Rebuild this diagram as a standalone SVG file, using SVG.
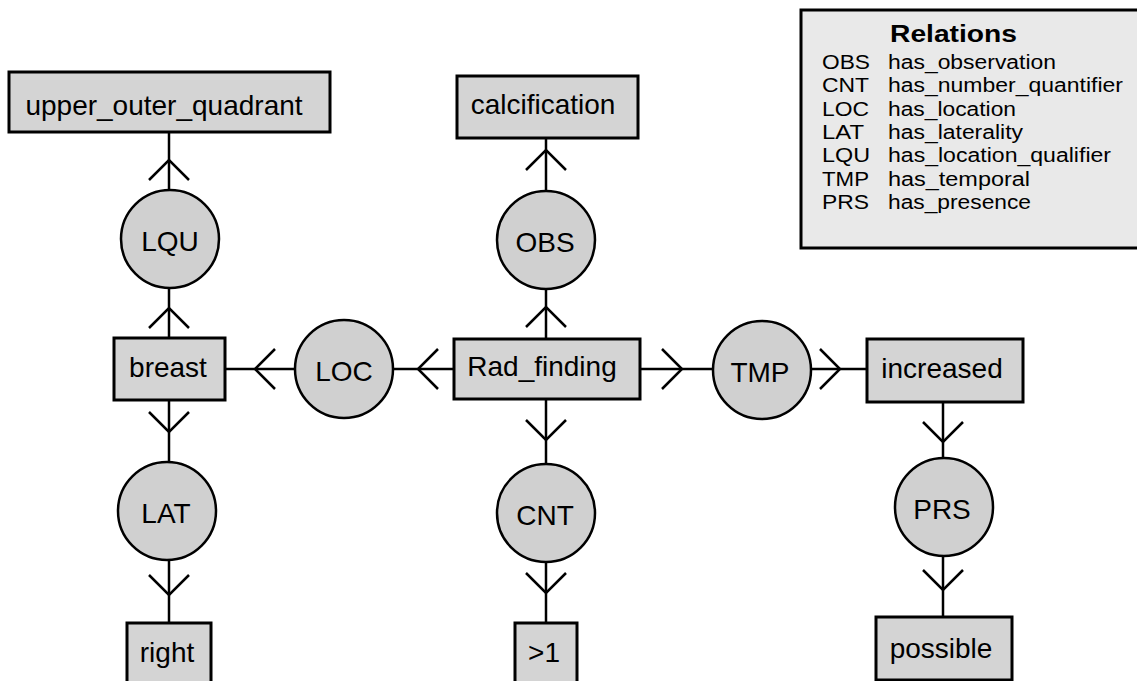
<svg xmlns="http://www.w3.org/2000/svg" width="1137" height="681" viewBox="0 0 1137 681">
<style>
  .box{fill:#d4d4d4;stroke:#000;stroke-width:3}
  .rel{fill:#d0d0d0;stroke:#000;stroke-width:2.5}
  .lbl{font-family:"Liberation Sans",Arial,sans-serif;font-size:28px;fill:#000;text-anchor:middle}
  .conn{fill:none;stroke:#000;stroke-width:2.5;marker-mid:url(#vee)}
  .leg{font-family:"Liberation Sans",Arial,sans-serif;font-size:20px;fill:#000}
  .legt{font-family:"Liberation Sans",Arial,sans-serif;font-size:23px;font-weight:bold;fill:#000}
</style>
<defs>
  <marker id="vee" markerUnits="userSpaceOnUse" markerWidth="50" markerHeight="50" viewBox="-25 -25 50 50" refX="0" refY="0" orient="auto">
    <path d="M-20,-20 L0,0 L-20,20" fill="none" stroke="#000" stroke-width="2.5"/>
  </marker>
</defs>
<rect width="1137" height="681" fill="#fff"/>

<g id="legend">
  <rect x="801" y="10" width="360" height="238" fill="#e9e9e9" stroke="#000" stroke-width="3"/>
  <text class="legt" x="890" y="42" textLength="127" lengthAdjust="spacingAndGlyphs">Relations</text>
  <text class="leg" x="822" y="69" textLength="48" lengthAdjust="spacingAndGlyphs">OBS</text><text class="leg" x="888" y="69" textLength="168" lengthAdjust="spacingAndGlyphs">has_observation</text>
  <text class="leg" x="822" y="92.3" textLength="47" lengthAdjust="spacingAndGlyphs">CNT</text><text class="leg" x="888" y="92.3" textLength="235" lengthAdjust="spacingAndGlyphs">has_number_quantifier</text>
  <text class="leg" x="822" y="115.6" textLength="47" lengthAdjust="spacingAndGlyphs">LOC</text><text class="leg" x="888" y="115.6" textLength="128" lengthAdjust="spacingAndGlyphs">has_location</text>
  <text class="leg" x="822" y="138.9" textLength="42" lengthAdjust="spacingAndGlyphs">LAT</text><text class="leg" x="888" y="138.9" textLength="135" lengthAdjust="spacingAndGlyphs">has_laterality</text>
  <text class="leg" x="822" y="162.2" textLength="48" lengthAdjust="spacingAndGlyphs">LQU</text><text class="leg" x="888" y="162.2" textLength="223" lengthAdjust="spacingAndGlyphs">has_location_qualifier</text>
  <text class="leg" x="822" y="185.5" textLength="47" lengthAdjust="spacingAndGlyphs">TMP</text><text class="leg" x="888" y="185.5" textLength="142" lengthAdjust="spacingAndGlyphs">has_temporal</text>
  <text class="leg" x="822" y="208.8" textLength="47" lengthAdjust="spacingAndGlyphs">PRS</text><text class="leg" x="888" y="208.8" textLength="143" lengthAdjust="spacingAndGlyphs">has_presence</text>
</g>

<g id="connectors">
  <path class="conn" d="M169,190 L169,160 L169,132"/>
  <path class="conn" d="M169,338 L169,308 L169,288"/>
  <path class="conn" d="M169,400 L169,432 L169,462"/>
  <path class="conn" d="M169,560 L169,595 L169,623"/>
  <path class="conn" d="M546,191 L546,150 L546,138"/>
  <path class="conn" d="M546,339 L546,307 L546,289"/>
  <path class="conn" d="M546,399 L546,440 L546,464"/>
  <path class="conn" d="M546,562 L546,593 L546,623"/>
  <path class="conn" d="M295,369 L255,369 L225,369"/>
  <path class="conn" d="M454,369 L418,369 L393,369"/>
  <path class="conn" d="M640,369 L682,369 L713,369"/>
  <path class="conn" d="M811,369 L840,369 L867,369"/>
  <path class="conn" d="M943,402 L943,442 L943,458"/>
  <path class="conn" d="M943,556 L943,590 L943,617"/>
</g>

<g id="upper_outer_quadrant"><rect class="box" x="9" y="72" width="321" height="60"/><text class="lbl" x="164" y="115">upper_outer_quadrant</text></g>
<g id="calcification"><rect class="box" x="457" y="76" width="181" height="62"/><text class="lbl" x="543" y="114">calcification</text></g>
<g id="Rad_finding"><rect class="box" x="454" y="339" width="186" height="60"/><text class="lbl" x="542" y="376">Rad_finding</text></g>
<g id="breast"><rect class="box" x="114" y="338" width="111" height="62"/><text class="lbl" x="168" y="377">breast</text></g>
<g id="increased"><rect class="box" x="867" y="339" width="156" height="63"/><text class="lbl" x="942" y="378">increased</text></g>
<g id="right"><rect class="box" x="127" y="623" width="84" height="64"/><text class="lbl" x="167" y="662">right</text></g>
<g id="gt1"><rect class="box" x="515" y="623" width="62" height="64"/><text class="lbl" x="544" y="662">&gt;1</text></g>
<g id="possible"><rect class="box" x="876" y="617" width="136" height="63"/><text class="lbl" x="941" y="658">possible</text></g>

<g id="LQU"><circle class="rel" cx="170" cy="239" r="49"/><text class="lbl" x="170" y="251">LQU</text></g>
<g id="OBS"><circle class="rel" cx="546" cy="240" r="49"/><text class="lbl" x="545" y="252">OBS</text></g>
<g id="LOC"><circle class="rel" cx="344" cy="369" r="49"/><text class="lbl" x="344" y="381">LOC</text></g>
<g id="TMP"><circle class="rel" cx="762" cy="370" r="49"/><text class="lbl" x="760" y="382">TMP</text></g>
<g id="LAT"><circle class="rel" cx="167" cy="511" r="49"/><text class="lbl" x="166" y="523">LAT</text></g>
<g id="CNT"><circle class="rel" cx="546" cy="513" r="49"/><text class="lbl" x="545" y="525">CNT</text></g>
<g id="PRS"><circle class="rel" cx="944" cy="507" r="49"/><text class="lbl" x="942" y="519">PRS</text></g>
</svg>
